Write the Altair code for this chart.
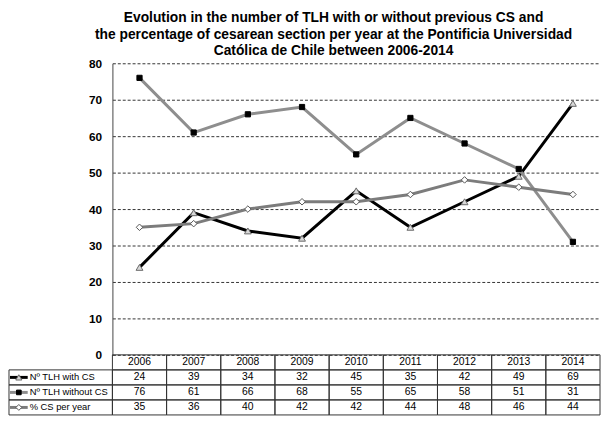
import altair as alt
import pandas as pd

years = ["2006", "2007", "2008", "2009", "2010", "2011", "2012", "2013", "2014"]
with_cs = [24, 39, 34, 32, 45, 35, 42, 49, 69]
without_cs = [76, 61, 66, 68, 55, 65, 58, 51, 31]
pct_cs = [35, 36, 40, 42, 42, 44, 48, 46, 44]
series_names = ["Nº TLH with CS", "Nº TLH without CS", "% CS per year"]
y_ticks = [0, 10, 20, 30, 40, 50, 60, 70, 80]
title_lines = [
    "Evolution in the number of TLH with or without previous CS and",
    "the percentage of cesarean section per year at the Pontificia Universidad",
    "Católica de Chile between 2006-2014",
]

FONT = "Liberation Sans"
W = 495
H = 357
PLOT_H = 296

series_values = [with_cs, without_cs, pct_cs]
styles = {
    "Nº TLH with CS": dict(color="black", shape="triangle-up", fill="#d8d8d8", stroke="#6a6a6a", size=48),
    "Nº TLH without CS": dict(color="#8e8e8e", shape="square", fill="black", stroke="black", size=28),
    "% CS per year": dict(color="#7c7c7c", shape="diamond", fill="white", stroke="#555555", size=44),
}

rows = []
for name, vals in zip(series_names, series_values):
    for y, v in zip(years, vals):
        rows.append({"year": y, "series": name, "value": v})
df = pd.DataFrame(rows)

yscale = alt.Scale(domain=[0, 80], range=[PLOT_H, 0], nice=False, zero=True)
xscale = alt.Scale(domain=years, padding=0.5)
yaxis = alt.Axis(
    values=y_ticks, grid=True, gridDash=[3, 2], gridColor="#333333",
    gridWidth=1, domain=True, domainColor="#444444", ticks=False, labelPadding=11,
    labelFont=FONT, labelFontSize=12, labelFontWeight="bold", labelColor="black",
    title=None,
)

line_layers = []
for name in series_names:
    st = styles[name]
    base = alt.Chart(df).transform_filter(alt.datum.series == name)
    ln = base.mark_line(strokeWidth=3, color=st["color"]).encode(
        x=alt.X("year:O", scale=xscale, axis=None),
        y=alt.Y("value:Q", scale=yscale, axis=yaxis),
    )
    pt = base.mark_point(shape=st["shape"], filled=True, fill=st["fill"], stroke=st["stroke"],
                         strokeWidth=1, size=st["size"], opacity=1).encode(
        x=alt.X("year:O", scale=xscale, axis=None),
        y=alt.Y("value:Q", scale=yscale, axis=yaxis),
    )
    line_layers += [ln, pt]

lines = alt.layer(*line_layers)

# table
row_keys = ["year"] + series_names
trows = []
for y in years:
    trows.append({"year": y, "row": "year", "txt": y})
for name, vals in zip(series_names, series_values):
    for y, v in zip(years, vals):
        trows.append({"year": y, "row": name, "txt": str(v)})
tdf = pd.DataFrame(trows)

rowscale = alt.Scale(domain=row_keys, range=[PLOT_H, H], paddingInner=0, paddingOuter=0)
colscale = alt.Scale(domain=years, paddingInner=0, paddingOuter=0)

cells = alt.Chart(tdf).mark_rect(filled=False, stroke="#333333", strokeWidth=1).encode(
    x=alt.X("year:N", scale=colscale, axis=None),
    y=alt.Y("row:N", scale=rowscale, axis=None),
)
cell_text = alt.Chart(tdf).mark_text(font=FONT, fontSize=10.5, color="black", baseline="middle").encode(
    x=alt.X("year:N", scale=colscale, axis=None, bandPosition=0.5),
    y=alt.Y("row:N", scale=rowscale, axis=None, bandPosition=0.5),
    text="txt:N",
)

hdf = pd.DataFrame({"row": series_names})
hdr_cells = alt.Chart(hdf).mark_rect(filled=False, stroke="#333333", strokeWidth=1).encode(
    x=alt.value(-105), x2=alt.value(0),
    y=alt.Y("row:N", scale=rowscale, axis=None),
)
hdr_text = alt.Chart(hdf).mark_text(font=FONT, fontSize=9.5, color="black", align="left", baseline="middle").encode(
    x=alt.value(-84),
    y=alt.Y("row:N", scale=rowscale, axis=None, bandPosition=0.5),
    text="row:N",
)
hdr_layers = []
for name in series_names:
    st = styles[name]
    hb = alt.Chart(hdf).transform_filter(alt.datum.row == name)
    hdr_layers.append(hb.mark_rule(strokeWidth=3, color=st["color"]).encode(
        x=alt.value(-104), x2=alt.value(-86),
        y=alt.Y("row:N", scale=rowscale, axis=None, bandPosition=0.5),
    ))
    hdr_layers.append(hb.mark_point(shape=st["shape"], filled=True, fill=st["fill"], stroke=st["stroke"],
                                    strokeWidth=1, size=st["size"] * 0.8, opacity=1).encode(
        x=alt.value(-95),
        y=alt.Y("row:N", scale=rowscale, axis=None, bandPosition=0.5),
    ))

table = alt.layer(cells, cell_text, hdr_cells, hdr_text, *hdr_layers)

chart = alt.layer(lines, table).resolve_scale(x="independent", y="independent").properties(
    width=W, height=H,
    padding=0,
    title=alt.TitleParams(
        text=title_lines, font=FONT, fontSize=14, fontWeight="bold", color="black",
        lineHeight=17, anchor="middle", dx=-23, offset=-1,
    ),
).configure_view(stroke=None)

chart.save("out.html", embed_options={"renderer": "svg", "actions": False})
